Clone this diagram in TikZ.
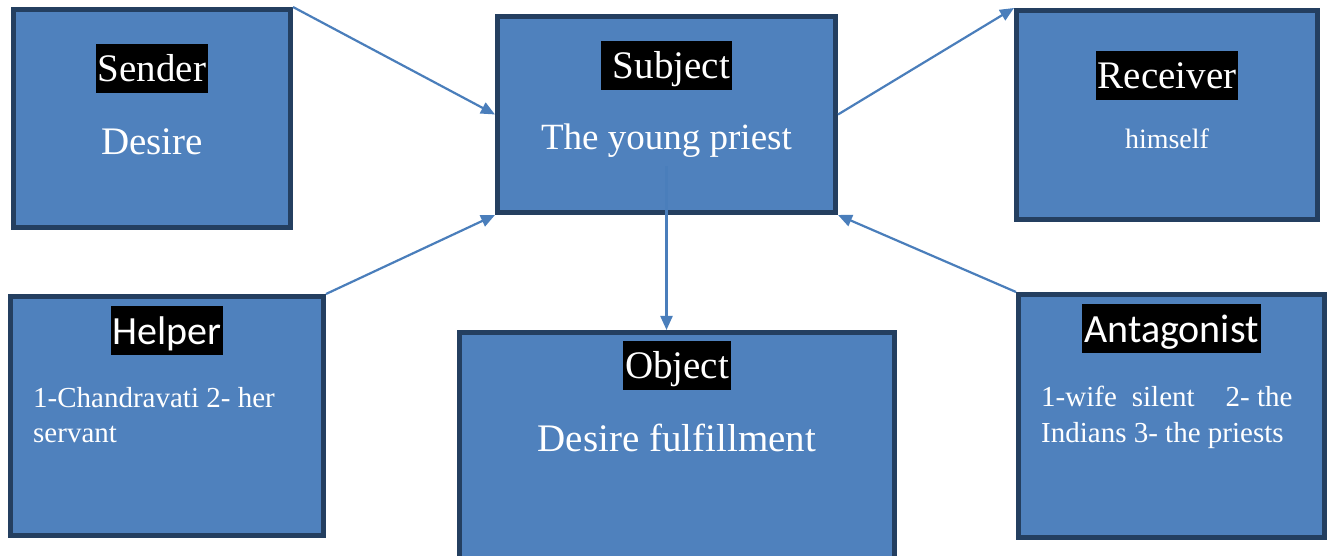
\documentclass[tikz,border=0pt]{standalone}
\usepackage{fontspec}
\setmainfont{Liberation Serif}
\newfontfamily\calibri{Carlito}
\usetikzlibrary{positioning,arrows.meta}
\definecolor{boxblue}{HTML}{4F81BD}
\definecolor{boxedge}{HTML}{243F60}
\definecolor{linkblue}{HTML}{4A7EBB}
\tikzstyle{actant} = [draw=boxedge, fill=boxblue, line width=5pt, rectangle]
\tikzstyle{role} = [fill=black, text=white, inner xsep=2pt, inner ysep=1.5pt, font=\fontsize{39}{45}\selectfont, text height=36.3pt, text depth=9.7pt]
\tikzstyle{rolesans} = [role, font=\calibri\fontsize{40}{48}\selectfont, text height=38pt, text depth=10.8pt, inner ysep=0.5pt]
\tikzstyle{filler} = [text=white, inner sep=0pt, font=\fontsize{39}{45}\selectfont]
\tikzstyle{smallfiller} = [filler, font=\fontsize{29}{36}\selectfont, align=left]
\tikzstyle{link} = [draw=linkblue, line width=2.2pt, -{Triangle[length=14pt,width=12pt]}]

\begin{document}
\begin{tikzpicture}[x=1pt, y=1pt]
            \useasboundingbox (0,0) rectangle (1331,556);
            % Defining nodes
            \node[actant, minimum width=277pt, minimum height=218pt] (sender) at (152,437.5) {};
            \node[actant, minimum width=338pt, minimum height=196pt] (subject) at (666.5,441.5) {};
            \node[actant, minimum width=301pt, minimum height=209pt] (receiver) at (1167,441) {};
            \node[actant, minimum width=313pt, minimum height=239pt] (helper) at (167,140) {};
            \node[actant, minimum width=435pt, minimum height=240pt] (object) at (677,103.5) {};
            \node[actant, minimum width=306pt, minimum height=243pt] (antagonist) at (1171.5,140) {};

            \node[role, below=36.5pt of sender.north] (sendertitle) {Sender};
            \node[role, below=26.5pt of subject.north] (subjecttitle) {~Subject};
            \node[role, below=42.5pt of receiver.north] (receivertitle) {Receiver};
            \node[rolesans, below=11.5pt of helper.north] (helpertitle) {Helper};
            \node[role, below=10.5pt of object.north] (objecttitle) {Object};
            \node[rolesans, below=11.5pt of antagonist.north] (antagonisttitle) {Antagonist};

            \node[filler, below=62pt of sendertitle, anchor=base] (senderbody) {Desire};
            \node[filler, font=\fontsize{37}{44}\selectfont, below=60pt of subjecttitle, anchor=base] (subjectbody) {The young priest};
            \node[filler, font=\fontsize{28}{34}\selectfont, below=49pt of receivertitle, anchor=base] (receiverbody) {himself};
            \node[filler, below=62pt of objecttitle, anchor=base] (objectbody) {Desire fulfillment};
            \node[smallfiller, font=\fontsize{29}{35}\selectfont, anchor=base west] (helperbody) at (33,113) {1-Chandravati 2- her\\servant};
            \node[smallfiller, anchor=base west] (antagonistbody) at (1041,113) {1-wife\hspace{15pt}silent\hspace{31pt}2- the\\Indians 3- the priests};

            % Drawing diagram
            \draw[link] (sender.north east) -- (subject.west);
            \draw[link] (helper.north east) -- (subject.south west);
            \draw[link] (subject.east) -- (receiver.north west);
            \draw[link] (antagonist.north west) -- (subject.south east);
            \draw[link] ([yshift=-52pt]subject.center) -- (subject.center |- object.north);
        \end{tikzpicture}
\end{document}
